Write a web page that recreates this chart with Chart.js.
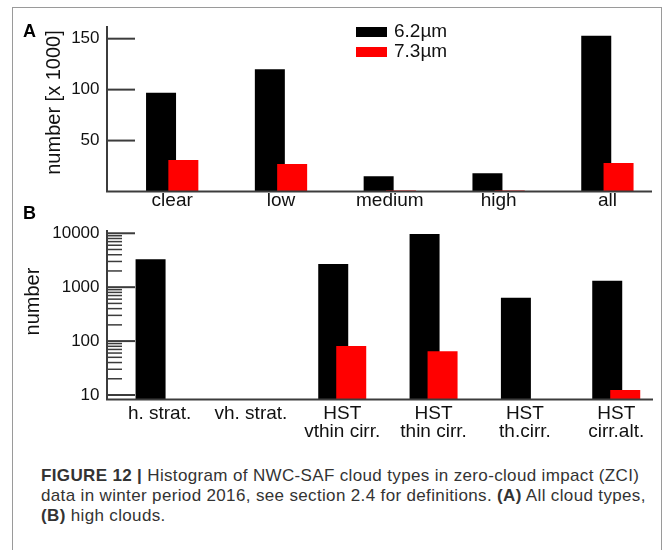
<!DOCTYPE html>
<html lang="en">
<head>
<meta charset="utf-8">
<title>NWC-SAF cloud types</title>
<script src="https://cdn.jsdelivr.net/npm/chart.js@4.4.1/dist/chart.umd.min.js"></script>
<style>
    body { margin: 0; background: #fff; }
    #frame { position: absolute; left: 12px; top: 7px; width: 648px; height: 560px; border: 1px solid #9a9a9a; }
    canvas { position: absolute; left: 0; }
    #chartA { top: 0; }
    #chartB { top: 200px; }
    #caption {
        position: absolute; left: 41px; top: 466px;
        font-family: "Liberation Sans", Arial, sans-serif; font-size: 17px;
        line-height: 20px; letter-spacing: 0.35px; color: #333; white-space: nowrap;
    }
</style>
</head>
<body>
<div id="frame"></div>
<canvas id="chartA" width="670" height="220"></canvas>
<canvas id="chartB" width="670" height="240"></canvas>
<div id="caption"><b>FIGURE 12 |</b> Histogram of NWC-SAF cloud types in zero-cloud impact (ZCI)<br>data in winter period 2016, see section 2.4 for definitions. <b>(A)</b> All cloud types,<br><b>(B)</b> high clouds.</div>
<script>
// A: 全雲タイプ（単位 1000件）
const typesA = ['clear', 'low', 'medium', 'high', 'all'];
const countA62 = [97, 120, 15, 18, 153];
const countA73 = [31, 27, 1, 1, 28];
const ticksA = [50, 100, 150];

// B: 上層雲（件数、対数軸）
const typesB = ['h. strat.', 'vh. strat.', ['HST', 'vthin cirr.'], ['HST', 'thin cirr.'], ['HST', 'th.cirr.'], ['HST', 'cirr.alt.']];
const countB62 = [3300, null, 2700, 9700, 640, 1320];
const countB73 = [null, null, 81, 65, null, 12.4];
const ticksB = [10, 100, 1000, 10000];

const seriesLabels = ['6.2µm', '7.3µm'];
const seriesColors = ['#000000', '#ff0000'];

const FONT = '"Liberation Sans", Arial, sans-serif';
Chart.defaults.font.family = FONT;
Chart.defaults.color = '#111';

// 対数軸の補助目盛り（2〜9）
const minorB = [];
ticksB.slice(0, -1).forEach(t => {
    for (let k = 2; k <= 9; k++) minorB.push(t * k);
});

// 軸線・内向きの目盛り・軸タイトル・凡例を描くプラグイン
const panelPlugin = {
    id: 'panel',
    beforeDatasetsDraw(chart) {
        // 赤いバーを黒いバーの上に重ねるため、データセット順に描く
        const ctx = chart.ctx;
        const a = chart.chartArea;
        ctx.save();
        ctx.beginPath();
        ctx.rect(a.left, a.top, a.right - a.left, a.bottom - a.top);
        ctx.clip();
        chart.getSortedVisibleDatasetMetas().forEach(m => m.controller.draw());
        ctx.restore();
        return false;
    },
    afterDraw(chart, args, o) {
        const ctx = chart.ctx;
        const y = chart.scales.y;
        const bottom = chart.chartArea.bottom;
        ctx.save();
        ctx.strokeStyle = '#3c3c3c';
        const tick = (v, len, w) => {
            const py = y.getPixelForValue(v);
            ctx.lineWidth = w;
            ctx.beginPath();
            ctx.moveTo(o.axisX, py);
            ctx.lineTo(o.axisX + len, py);
            ctx.stroke();
        };
        o.minor.forEach(v => tick(v, 15, 1.5));
        o.major.forEach(v => tick(v, 28, 2));

        // 軸線
        ctx.lineWidth = 2;
        ctx.beginPath();
        ctx.moveTo(o.axisX, o.axisTop);
        ctx.lineTo(o.axisX, bottom);
        ctx.lineTo(o.axisEnd, bottom);
        ctx.stroke();

        // パネル記号
        ctx.fillStyle = '#000';
        ctx.font = 'bold 18px ' + FONT;
        ctx.textAlign = 'left';
        ctx.textBaseline = 'alphabetic';
        ctx.fillText(o.letter, o.letterX, o.letterY);

        // 凡例
        if (o.legend) {
            ctx.font = '19px ' + FONT;
            ctx.textBaseline = 'middle';
            chart.data.datasets.forEach((ds, i) => {
                const top = o.legend.y + i * o.legend.gap;
                ctx.fillStyle = ds.backgroundColor;
                ctx.fillRect(o.legend.x, top, 31, 10);
                ctx.fillStyle = '#111';
                ctx.fillText(ds.label, o.legend.x + 38, top + 5);
            });
        }

        // 縦軸タイトル
        ctx.font = '20px ' + FONT;
        ctx.fillStyle = '#111';
        ctx.translate(o.titleX, o.titleY);
        ctx.rotate(-Math.PI / 2);
        ctx.textAlign = 'center';
        ctx.textBaseline = 'middle';
        ctx.fillText(o.title, 0, 0);
        ctx.restore();
    }
};

function makeDatasets(a, b) {
    return [a, b].map((d, i) => ({
        label: seriesLabels[i],
        data: d,
        backgroundColor: seriesColors[i],
        borderWidth: 0
    }));
}

const hiddenGrid = { display: false, drawTicks: false };

// A: 全雲タイプ
new Chart(document.getElementById('chartA'), {
    type: 'bar',
    data: { labels: typesA, datasets: makeDatasets(countA62, countA73) },
    options: {
        responsive: false,
        animation: false,
        layout: { padding: { top: 25.3, right: 8.2, bottom: 0, left: 0 } },
        datasets: { bar: { categoryPercentage: 0.41, barPercentage: 1.345 } },
        plugins: {
            legend: { display: false },
            tooltip: { enabled: false },
            panel: {
                axisX: 107, axisTop: 26, axisEnd: 652,
                letter: 'A', letterX: 23, letterY: 37,
                title: 'number [x 1000]', titleX: 54.5, titleY: 102.5,
                major: ticksA, minor: [],
                legend: { x: 356, y: 27, gap: 20 }
            }
        },
        scales: {
            x: {
                grid: hiddenGrid, border: { display: false },
                ticks: { font: { size: 19, lineHeight: 1 }, padding: 0, maxRotation: 0, autoSkip: false },
                afterFit: s => { s.height = 24.5; }
            },
            y: {
                min: 0, max: 160, bounds: 'data',
                grid: hiddenGrid, border: { display: false },
                ticks: { font: { size: 17 }, padding: 18.3 },
                afterBuildTicks: s => { s.ticks = ticksA.map(v => ({ value: v })); },
                afterFit: s => { s.width = 117.8; }
            }
        }
    },
    plugins: [panelPlugin]
});

// B: 上層雲
new Chart(document.getElementById('chartB'), {
    type: 'bar',
    data: { labels: typesB, datasets: makeDatasets(countB62, countB73) },
    options: {
        responsive: false,
        animation: false,
        layout: { padding: { top: 30, right: 8.1, bottom: 0, left: 0 } },
        datasets: { bar: { categoryPercentage: 0.394, barPercentage: 1.667 } },
        plugins: {
            legend: { display: false },
            tooltip: { enabled: false },
            panel: {
                axisX: 107, axisTop: 30, axisEnd: 653,
                letter: 'B', letterX: 23, letterY: 19,
                title: 'number', titleX: 33.3, titleY: 101.5,
                major: ticksB, minor: minorB
            }
        },
        scales: {
            x: {
                grid: hiddenGrid, border: { display: false },
                ticks: { font: { size: 19, lineHeight: 0.95 }, padding: 5.4, maxRotation: 0, autoSkip: false },
                afterFit: s => { s.height = 40.5; }
            },
            y: {
                type: 'logarithmic', min: 8.25, max: 11500, bounds: 'data',
                grid: hiddenGrid, border: { display: false },
                ticks: { font: { size: 17 }, padding: 14.4, callback: v => String(v) },
                afterBuildTicks: s => { s.ticks = ticksB.map(v => ({ value: v })); },
                afterFit: s => { s.width = 113.9; }
            }
        }
    },
    plugins: [panelPlugin]
});
</script>
</body>
</html>
